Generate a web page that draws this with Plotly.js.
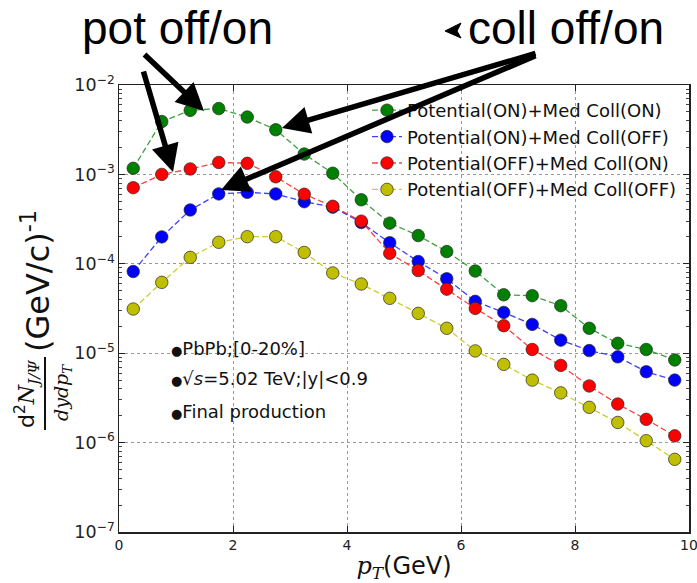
<!DOCTYPE html>
<html>
<head>
<meta charset="utf-8">
<script src="https://cdn.plot.ly/plotly-3.0.1.min.js"></script>
<style>body{margin:0;padding:0;background:#fff;} #chart{width:697px;height:583px;}</style>
</head>
<body>
<div id="chart"></div>
<script>
// ---- data ----
const pT = [0.25, 0.75, 1.25, 1.75, 2.25, 2.75, 3.25, 3.75, 4.25, 4.75,
            5.25, 5.75, 6.25, 6.75, 7.25, 7.75, 8.25, 8.75, 9.25, 9.75];
const potOnCollOn = [1.17e-3, 3.9e-3, 5.2e-3, 5.45e-3, 4.38e-3, 3.16e-3, 1.69e-3, 1.03e-3, 5.2e-4, 2.85e-4,
                     2.07e-4, 1.37e-4, 8.3e-5, 4.5e-5, 4.4e-5, 3.4e-5, 1.9e-5, 1.29e-5, 1.1e-5, 8.4e-6];
const potOnCollOff = [8.2e-5, 2.0e-4, 4.0e-4, 6.05e-4, 6.3e-4, 6.05e-4, 4.95e-4, 4.3e-4, 2.9e-4, 1.72e-4,
                      1.06e-4, 6.8e-5, 3.8e-5, 2.86e-5, 2.1e-5, 1.4e-5, 1.07e-5, 9.1e-6, 6.2e-6, 5.0e-6];
const potOffCollOn = [7.1e-4, 1.0e-3, 1.15e-3, 1.36e-3, 1.33e-3, 9.4e-4, 6.0e-4, 4.4e-4, 3.0e-4, 1.31e-4,
                      8.4e-5, 5.2e-5, 3.17e-5, 2.03e-5, 1.1e-5, 7.3e-6, 4.3e-6, 2.7e-6, 1.82e-6, 1.19e-6];
const potOffCollOff = [3.12e-5, 6.2e-5, 1.18e-4, 1.74e-4, 2.01e-4, 2.01e-4, 1.34e-4, 7.9e-5, 5.94e-5, 4.11e-5,
                       2.79e-5, 1.9e-5, 1.06e-5, 7.5e-6, 5.0e-6, 3.6e-6, 2.48e-6, 1.68e-6, 1.05e-6, 6.5e-7];
const seriesNames = ["Potential(ON)+Med Coll(ON)", "Potential(ON)+Med Coll(OFF)",
                     "Potential(OFF)+Med Coll(ON)", "Potential(OFF)+Med Coll(OFF)"];
const seriesValues = [potOnCollOn, potOnCollOff, potOffCollOn, potOffCollOff];
const xTickVals = [0, 2, 4, 6, 8, 10];
const infoLines = ["PbPb;[0-20%]", "√<i>s</i>=5.02 TeV;|y|&lt;0.9", "Final production"];

// ---- styles ----
const colors = ["#008000", "#0000ff", "#ff0000", "#bfbf00"];
const lineColors = ["rgba(0,128,0,0.75)", "rgba(0,0,255,0.75)", "rgba(255,0,0,0.75)", "rgba(191,191,0,0.8)"];

const traces = seriesValues.map((vals, i) => ({
  x: pT, y: vals, name: seriesNames[i], type: "scatter", mode: "lines+markers",
  line: {color: lineColors[i], width: 1.3, dash: "6px,3px"},
  marker: {color: colors[i], size: 12.5, line: {color: "rgba(40,40,40,0.7)", width: 1}}
}));

const L = 119, R = 689, T = 85, B = 532;
const px2x = p => (p - L) / (R - L);
const px2y = p => (B - p) / (B - T);

function arrow(tailX, tailY, tipX, tipY) {
  return {xref: "paper", yref: "paper", x: px2x(tipX), y: px2y(tipY), text: "",
          showarrow: true, ax: tailX - tipX, ay: tailY - tipY, arrowhead: 2,
          arrowwidth: 5.5, arrowsize: 1, arrowcolor: "#000", standoff: 0};
}

const bullet = "<span style='font-size:13px'>●</span>";
const annotations = [
  {xref: "paper", yref: "paper", x: px2x(177.5), y: px2y(28), text: "pot off/on",
   showarrow: false, xanchor: "center", yanchor: "middle",
   font: {family: "Liberation Sans, Arial, sans-serif", size: 46, color: "#000"}},
  {xref: "paper", yref: "paper", x: px2x(566), y: px2y(28), text: "coll off/on",
   showarrow: false, xanchor: "center", yanchor: "middle",
   font: {family: "Liberation Sans, Arial, sans-serif", size: 46, color: "#000"}},
  arrow(143, 53, 204, 111),
  arrow(143, 70, 173, 172),
  arrow(537, 53, 282, 128),
  arrow(537, 55, 221, 190),
  {xref: "paper", yref: "paper", x: px2x(169), y: px2y(348), text: bullet + infoLines[0],
   showarrow: false, xanchor: "left", yanchor: "middle", font: {family: "DejaVu Sans", size: 18, color: "#111"}},
  {xref: "paper", yref: "paper", x: px2x(169), y: px2y(378), text: bullet + infoLines[1],
   showarrow: false, xanchor: "left", yanchor: "middle", font: {family: "DejaVu Sans", size: 18, color: "#111"}},
  {xref: "paper", yref: "paper", x: px2x(169), y: px2y(411), text: bullet + infoLines[2],
   showarrow: false, xanchor: "left", yanchor: "middle", font: {family: "DejaVu Sans", size: 18, color: "#111"}},
  // y-axis title pieces
  {xref: "paper", yref: "paper", x: px2x(36), y: px2y(281), text: "(GeV/c)<sup>-1</sup>",
   textangle: -90, showarrow: false, xanchor: "center", yanchor: "middle",
   font: {family: "DejaVu Sans", size: 32, color: "#111"}},
  {xref: "paper", yref: "paper", x: px2x(27), y: px2y(394),
   text: "d<sup>2</sup><span style='font-family:DejaVu Serif'><i>N</i><sub><i>J/Ψ</i></sub></span>",
   textangle: -90, showarrow: false, xanchor: "center", yanchor: "middle",
   font: {family: "DejaVu Sans", size: 22, color: "#111"}},
  {xref: "paper", yref: "paper", x: px2x(62), y: px2y(393),
   text: "<i>dydp</i><sub><i>T</i></sub>",
   textangle: -90, showarrow: false, xanchor: "center", yanchor: "middle",
   font: {family: "DejaVu Serif", size: 19, color: "#111"}}
];

const shapes = [
  {type: "line", xref: "paper", yref: "paper", x0: px2x(45), x1: px2x(45), y0: px2y(357), y1: px2y(430),
   line: {color: "#111", width: 2}},
  {type: "path", xref: "paper", yref: "paper",
   path: `M ${px2x(445)},${px2y(31)} L ${px2x(461)},${px2y(23)} L ${px2x(457)},${px2y(31)} L ${px2x(461)},${px2y(38)} Z`,
   fillcolor: "#000", line: {color: "#000", width: 1}}
];

const axisCommon = {
  showline: true, linecolor: "#222", linewidth: 1.5, mirror: "ticks",
  ticks: "inside", ticklen: 6, tickcolor: "#222", tickwidth: 1,
  showgrid: true, gridcolor: "#999", griddash: "dot", gridwidth: 1, zeroline: false,
  tickfont: {family: "DejaVu Sans", size: 14, color: "#222"}
};

const layout = {
  width: 697, height: 583, autosize: false,
  margin: {l: L, r: 697 - R, t: T, b: 583 - B},
  paper_bgcolor: "#fff", plot_bgcolor: "#fff",
  showlegend: true,
  legend: {x: px2x(367), y: px2y(92), xanchor: "left", yanchor: "top",
           bgcolor: "rgba(0,0,0,0)", borderwidth: 0, itemwidth: 30,
           font: {family: "DejaVu Sans", size: 18, color: "#111"}},
  xaxis: Object.assign({}, axisCommon, {
    range: [0, 10], tickvals: xTickVals, ticktext: xTickVals.map(String),
    ticklabeloverflow: "allow",
    title: {text: "<span style='font-family:DejaVu Serif'><i>p</i><sub><i>T</i></sub></span>(GeV)",
            font: {family: "DejaVu Sans", size: 24, color: "#111"}, standoff: 8}
  }),
  yaxis: Object.assign({}, axisCommon, {
    type: "log", range: [-7, -2], dtick: 1, exponentformat: "power",
    minor: {ticks: "inside", ticklen: 3, tickcolor: "#444", dtick: "D1", showgrid: false}
  }),
  annotations: annotations,
  shapes: shapes
};

Plotly.newPlot("chart", traces, layout, {displayModeBar: false, staticPlot: true});
</script>
</body>
</html>
